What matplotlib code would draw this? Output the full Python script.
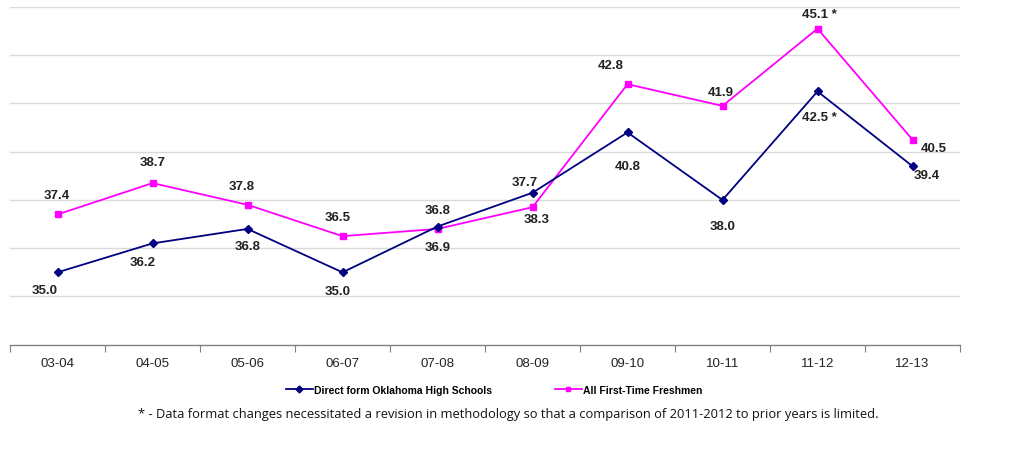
import matplotlib
matplotlib.use("Agg")
import matplotlib.pyplot as plt
from matplotlib.lines import Line2D

categories = ["03-04", "04-05", "05-06", "06-07", "07-08", "08-09", "09-10", "10-11", "11-12", "12-13"]
direct_ok = [35.0, 36.2, 36.8, 35.0, 36.9, 38.3, 40.8, 38.0, 42.5, 39.4]
all_freshmen = [37.4, 38.7, 37.8, 36.5, 36.8, 37.7, 42.8, 41.9, 45.1, 40.5]
direct_labels = ["35.0", "36.2", "36.8", "35.0", "36.9", "38.3", "40.8", "38.0", "42.5 *", "39.4"]
all_labels = ["37.4", "38.7", "37.8", "36.5", "36.8", "37.7", "42.8", "41.9", "45.1 *", "40.5"]

# label offsets in pixels (dx, dy) relative to point
direct_off = [(-13, -18), (-10, -19), (0, -17), (-5, -19), (0, -20), (4, -26), (0, -34), (0, -26), (2, -26), (14, -9)]
all_off = [(-1, 19), (0, 21), (-6, 19), (-5, 19), (0, 19), (-8, 25), (-17, 19), (-2, 14), (2, 15), (21, -8)]

fig = plt.figure(figsize=(10.24, 4.52), dpi=100)
ax = fig.add_axes([10 / 1024, 1 - 345.7 / 452, 950 / 1024, (345.7 - 8) / 452])

x = list(range(len(categories)))
ax.set_xlim(-0.5, len(categories) - 0.5)
ax.set_ylim(32, 46)

for yv in range(34, 47, 2):
    ax.axhline(yv, color="#d9d9d9", lw=1.0, zorder=0)

ax.plot(x, all_freshmen, color="#ff00ff", lw=1.3, marker="s", ms=4.5, zorder=3)
ax.plot(x, direct_ok, color="#000080", lw=1.3, marker="D", ms=4.5, zorder=4)

lab_font = dict(fontsize=9.5, fontweight="bold", family="Liberation Sans", color="#222222",
                ha="center", va="center")
for i in x:
    ax.annotate(direct_labels[i], (i, direct_ok[i]), xytext=direct_off[i],
                textcoords="offset pixels", **lab_font)
    ax.annotate(all_labels[i], (i, all_freshmen[i]), xytext=all_off[i],
                textcoords="offset pixels", **lab_font)

for s in ["top", "right", "left"]:
    ax.spines[s].set_visible(False)
ax.spines["bottom"].set_color("#808080")
ax.spines["bottom"].set_linewidth(1.0)
ax.set_yticks([])

ax.set_xticks([i - 0.5 for i in range(len(categories) + 1)], minor=False)
ax.set_xticklabels([])
ax.tick_params(axis="x", which="major", length=5, color="#808080", direction="out")
ax.set_xticks(x, minor=True)
ax.set_xticklabels(categories, minor=True, fontsize=9.5, family="Liberation Sans", color="#222222")
ax.tick_params(axis="x", which="minor", length=0, pad=9)

handles = [
    Line2D([], [], color="#000080", lw=1.3, marker="D", ms=3.5),
    Line2D([], [], color="#ff00ff", lw=1.3, marker="s", ms=3.5),
]
fig.legend(handles, ["Direct form Oklahoma High Schools", "All First-Time Freshmen"],
           loc="center", bbox_to_anchor=(494 / 1024, 1 - 391 / 452), ncol=2, frameon=False,
           prop=dict(family="Liberation Sans", weight="bold", size=7.5),
           handlelength=2.6, handletextpad=0.1, columnspacing=6)

fig.text(508 / 1024, 1 - 415 / 452,
         "* - Data format changes necessitated a revision in methodology so that a comparison of 2011-2012 to prior years is limited.",
         ha="center", va="center", fontsize=9.3, family="Open Sans", color="#111111")

fig.savefig("out.png", dpi=100)
